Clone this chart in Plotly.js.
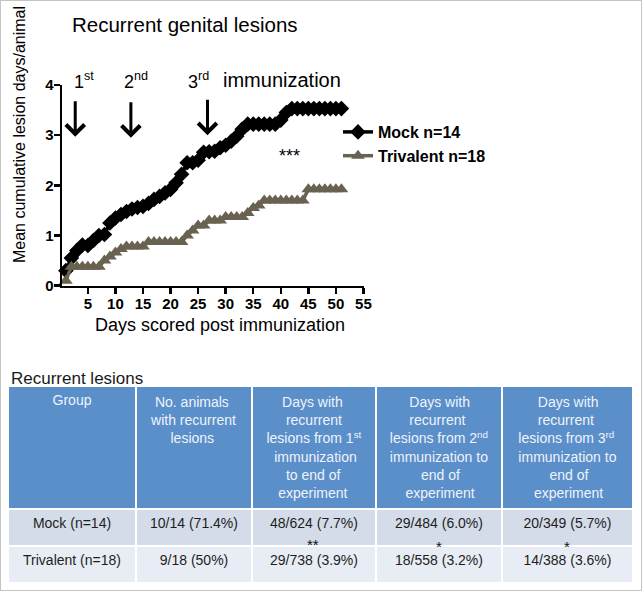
<!DOCTYPE html>
<html>
<head>
<meta charset="utf-8">
<script src="https://cdn.plot.ly/plotly-3.0.1.min.js"></script>
<style>
  body { margin: 0; background: #fff; }
  #chart { position: absolute; left: 0; top: 0; width: 642px; height: 591px; }
  #frame { position: absolute; left: 0; top: 0; width: 642px; height: 591px; box-sizing: border-box; border: 1px solid #c4c4c4; pointer-events: none; z-index: 10; }
</style>
</head>
<body>
<div id="chart"></div>
<div id="frame"></div>
<script>
// ---- Data ----
const days = [1,2,3,4,5,6,7,8,9,10,11,12,13,14,15,16,17,18,19,20,21,22,23,24,25,26,27,28,29,30,31,32,33,34,35,36,37,38,39,40,41,42,43,44,45,46,47,48,49,50,51];
const mockValues = [0.30,0.55,0.70,0.81,0.80,0.90,1.00,1.02,1.25,1.35,1.42,1.48,1.53,1.56,1.58,1.64,1.72,1.78,1.85,1.92,2.05,2.22,2.45,2.45,2.50,2.66,2.67,2.68,2.75,2.80,2.88,2.98,3.12,3.22,3.22,3.22,3.22,3.22,3.22,3.30,3.45,3.53,3.53,3.53,3.53,3.53,3.53,3.53,3.53,3.53,3.53];
const trivalentValues = [0.10,0.38,0.38,0.38,0.38,0.38,0.38,0.50,0.58,0.66,0.73,0.78,0.78,0.78,0.78,0.87,0.87,0.87,0.87,0.87,0.87,0.87,1.00,1.10,1.20,1.20,1.30,1.30,1.30,1.37,1.37,1.37,1.37,1.45,1.55,1.60,1.70,1.70,1.70,1.70,1.70,1.70,1.70,1.70,1.92,1.92,1.92,1.92,1.92,1.92,1.92];
const seriesNames = ['Mock n=14', 'Trivalent n=18'];
const xTickVals = [5,10,15,20,25,30,35,40,45,50,55];
const yTickVals = [0,1,2,3,4];

const tableHeaders = [
  'Group',
  'No. animals<br>with recurrent<br>lesions',
  'Days with<br>recurrent<br>lesions from 1<sup>st</sup><br>immunization<br>to end of<br>experiment',
  'Days with<br>recurrent<br>lesions from 2<sup>nd</sup><br>immunization to<br>end of<br>experiment',
  'Days with<br>recurrent<br>lesions from 3<sup>rd</sup><br>immunization to<br>end of<br>experiment'
];
const groupCol = ['Mock (n=14)', 'Trivalent (n=18)'];
const animalsCol = ['10/14 (71.4%)', '9/18 (50%)'];
const fromFirstCol = ['48/624 (7.7%)', '29/738 (3.9%)'];
const fromSecondCol = ['29/484 (6.0%)', '18/558 (3.2%)'];
const fromThirdCol = ['20/349 (5.7%)', '14/388 (3.6%)'];
const significanceMarks = ['**', '*', '*'];

// ---- Layout helpers (pixel -> paper) ----
const W = 642, H = 591;
const px = v => v / W;
const py = v => 1 - v / H;
const FONT = 'Liberation Sans, Arial, sans-serif';
const HEADER_SIZE = 14;

// Centre each line of a multi-line header cell (the table centres the block only)
const ctx = document.createElement('canvas').getContext('2d');
function measure(str, size) {
  ctx.font = size + 'px "Liberation Sans", Arial, sans-serif';
  return ctx.measureText(str).width;
}
function lineWidth(line, size) {
  let w = 0;
  const parts = line.split(/(<sup>.*?<\/sup>)/);
  parts.forEach(p => {
    if (!p) return;
    const m = p.match(/^<sup>(.*?)<\/sup>$/);
    if (m) w += measure(m[1], size * 0.7);
    else w += measure(p, size);
  });
  return w;
}
function centreLines(html, size) {
  const lines = html.split('<br>');
  const widths = lines.map(l => lineWidth(l, size));
  const maxW = Math.max.apply(null, widths);
  const sp = measure('\u00a0', size);
  return lines.map((l, i) => '\u00a0'.repeat(Math.max(0, Math.round((maxW - widths[i]) / 2 / sp))) + l).join('<br>');
}

const mockTrace = {
  type: 'scatter', mode: 'lines+markers', name: seriesNames[0],
  x: days, y: mockValues,
  line: { color: '#000000', width: 3.5 },
  marker: { symbol: 'diamond', size: 12, color: '#000000' },
  cliponaxis: false
};
const trivTrace = {
  type: 'scatter', mode: 'lines+markers', name: seriesNames[1],
  x: days, y: trivalentValues,
  line: { color: '#696251', width: 3.5 },
  marker: { symbol: 'triangle-up', size: 12, color: '#696251' },
  cliponaxis: false
};

const headerFill = '#5b8fca';
const tableTrace = {
  type: 'table',
  domain: { x: [px(8), px(633)], y: [py(584), py(386)] },
  columnwidth: [128, 116, 124, 126, 131],
  header: {
    values: tableHeaders.map(h => centreLines(h, HEADER_SIZE)),
    align: 'center',
    height: 117,
    fill: { color: headerFill },
    line: { color: '#ffffff', width: 2 },
    font: { family: FONT, size: HEADER_SIZE, color: '#eef3fa' }
  },
  cells: {
    values: [groupCol, animalsCol, fromFirstCol, fromSecondCol, fromThirdCol],
    align: 'center',
    height: 37,
    fill: { color: [['#d4dce9', '#e8ecf4']] },
    line: { color: '#ffffff', width: 2 },
    font: { family: FONT, size: 14, color: '#1e1e1e' }
  }
};

const A = (o) => Object.assign({ xref: 'paper', yref: 'paper', showarrow: false, xanchor: 'center', yanchor: 'middle' }, o);
const annotations = [
  A({ text: '1<sup>st</sup>', x: px(84), y: py(80), font: { family: FONT, size: 18, color: '#000' } }),
  A({ text: '2<sup>nd</sup>', x: px(136), y: py(80), font: { family: FONT, size: 18, color: '#000' } }),
  A({ text: '3<sup>rd</sup>', x: px(198), y: py(80), font: { family: FONT, size: 18, color: '#000' } }),
  A({ text: 'immunization', x: px(282), y: py(80), font: { family: FONT, size: 20, color: '#000' } }),
  // arrows
  { text: '', xref: 'x', yref: 'y', x: 2.7, y: 2.97, ax: 0, ay: -37, showarrow: true, arrowhead: 4, arrowsize: 1.2, arrowwidth: 3, arrowcolor: '#000' },
  { text: '', xref: 'x', yref: 'y', x: 12.8, y: 2.95, ax: 0, ay: -37, showarrow: true, arrowhead: 4, arrowsize: 1.2, arrowwidth: 3, arrowcolor: '#000' },
  { text: '', xref: 'x', yref: 'y', x: 26.7, y: 3.0, ax: 0, ay: -37, showarrow: true, arrowhead: 4, arrowsize: 1.2, arrowwidth: 3, arrowcolor: '#000' },
  { text: '***', xref: 'x', yref: 'y', x: 41.6, y: 2.58, showarrow: false, xanchor: 'center', yanchor: 'middle', font: { family: FONT, size: 18, color: '#000' } },
  // axis titles
  A({ text: 'Mean cumulative lesion days/animal', x: px(19), y: py(135), textangle: -90, font: { family: FONT, size: 16, color: '#000' } }),
  A({ text: 'Days scored post immunization', x: px(220), y: py(325), font: { family: FONT, size: 18, color: '#000' } }),
  // table title
  A({ text: 'Recurrent lesions', x: px(9), y: py(378), xanchor: 'left', font: { family: FONT, size: 17, color: '#1a1a1a' } }),
  // significance between rows
  A({ text: significanceMarks[0], x: px(313), y: py(544), font: { family: FONT, size: 15, color: '#111' } }),
  A({ text: significanceMarks[1], x: px(439), y: py(546), font: { family: FONT, size: 15, color: '#111' } }),
  A({ text: significanceMarks[2], x: px(567), y: py(546), font: { family: FONT, size: 15, color: '#111' } })
];

const layout = {
  width: W, height: H,
  margin: { l: 0, r: 0, t: 0, b: 0 },
  paper_bgcolor: '#ffffff', plot_bgcolor: 'rgba(0,0,0,0)',
  font: { family: FONT, color: '#000' },
  title: { text: 'Recurrent genital lesions', font: { family: FONT, size: 20.5, color: '#000' }, xref: 'container', yref: 'container', x: px(72), xanchor: 'left', y: py(25), yanchor: 'middle' },
  showlegend: true,
  legend: { x: px(338), y: py(115), xanchor: 'left', yanchor: 'top', bgcolor: 'rgba(0,0,0,0)', font: { family: FONT, size: 16, color: '#000', weight: 'bold' } },
  xaxis: {
    domain: [px(62), px(364)],
    range: [0.3, 55.1],
    tickvals: xTickVals,
    ticks: 'outside', ticklen: 6, tickwidth: 2.5, tickcolor: '#000',
    ticklabelstandoff: -3,
    showline: true, linecolor: '#000', linewidth: 2.5,
    showgrid: false, zeroline: false,
    tickfont: { family: FONT, size: 15, color: '#000', weight: 'bold' },
    anchor: 'y'
  },
  yaxis: {
    domain: [py(285.7), py(85)],
    range: [0, 4],
    tickvals: yTickVals,
    ticks: 'outside', ticklen: 6, tickwidth: 2.5, tickcolor: '#000',
    ticklabelstandoff: -3,
    showline: true, linecolor: '#000', linewidth: 2.5,
    showgrid: false, zeroline: false,
    tickfont: { family: FONT, size: 15, color: '#000', weight: 'bold' },
    anchor: 'x'
  },
  annotations: annotations
};

Plotly.newPlot('chart', [mockTrace, trivTrace, tableTrace], layout, { staticPlot: true, displayModeBar: false });
</script>
</body>
</html>
